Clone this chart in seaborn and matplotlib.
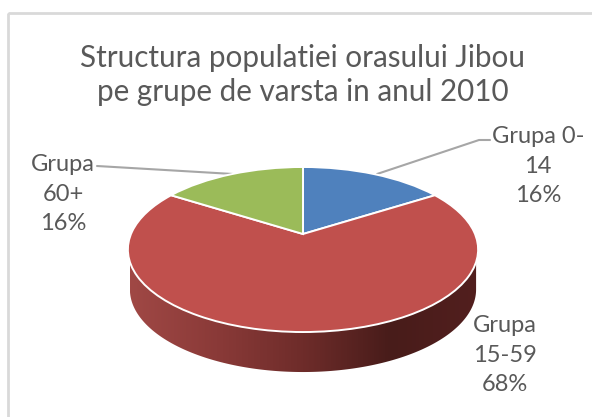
import numpy as np
import seaborn as sns
import matplotlib
matplotlib.use('Agg')
import matplotlib.pyplot as plt
from matplotlib.colors import LinearSegmentedColormap
from matplotlib.patches import Polygon, Rectangle
from matplotlib.transforms import Transform

groups = ['Grupa 0-\n14', 'Grupa\n15-59', 'Grupa\n60+']
shares = [16, 68, 16]
colors = ['#4f81bd', '#c0504d', '#9bbb59']
title = 'Structura populatiei orasului Jibou\npe grupe de varsta in anul 2010'

# pie geometry, in picture pixels
CX, CY = 303, 234
RX, RY, TILT = 172, 79.6, 0.188
DEPTH = 40


class Tilted(Transform):
    # puts the flat unit pie on the receding disc of the 3d look
    input_dims = output_dims = 2
    has_inverse = False

    def __init__(self, cy=CY, rx=RX):
        super().__init__()
        self.cy, self.rx = cy, rx

    def transform_non_affine(self, xy):
        xy = np.asarray(xy, dtype=float)
        d = 1 + TILT * xy[:, 1]
        return np.column_stack([CX + self.rx * xy[:, 0] / d, self.cy - RY * xy[:, 1] / d])


sns.set_theme(style='white')
plt.rcParams['font.family'] = ['Lato', 'DejaVu Sans']

fig = plt.figure(figsize=(5.92, 4.17), dpi=100)
ax = fig.add_axes([0, 0, 1, 1])

wedges, _ = ax.pie(shares, colors=colors, startangle=90, counterclock=False,
                   wedgeprops={'edgecolor': 'white', 'linewidth': 1.4})
for w in wedges:
    w.set_transform(Tilted() + ax.transData)
    w.set_zorder(3)

# side wall of the pie, lower half of the same disc moved down
a = np.linspace(np.pi + np.arcsin(TILT), 2 * np.pi - np.arcsin(TILT), 200)
low = Tilted(CY + DEPTH, 170).transform_non_affine(np.column_stack([np.cos(a), np.sin(a)]))
low = np.vstack([[low[0, 0], 262], low, [low[-1, 0], 262]])
wall = Polygon(low, closed=True, fc='none', ec='none', transform=ax.transData)
ax.add_patch(wall)
wall_cmap = LinearSegmentedColormap.from_list('wall', ['#a04845', '#8a3a38', '#6e2c2a', '#481c1a', '#521f1e'])
img = ax.imshow(np.linspace(0, 1, 256)[None, :], cmap=wall_cmap, aspect='auto',
                extent=[130, 477, 380, 255], zorder=2)
img.set_clip_path(wall)

ax.set_xlim(0, 592)
ax.set_ylim(417, 0)
ax.set_aspect('auto')
ax.axis('off')

ax.add_patch(Rectangle((8, 13), 640, 460, fc='none', ec='#d9d9d9', lw=2, clip_on=True))

# leader lines
ax.plot([490, 479, 377], [140, 140, 174], color='#a6a6a6', lw=1.5, zorder=1)
ax.plot([97, 233], [166, 174], color='#a6a6a6', lw=1.5, zorder=1)

ax.text(303, 75, title, ha='center', va='center', fontsize=21.3, color='#595959', linespacing=1.25)
label_pos = [(538, 166), (505, 355), (63, 194)]
for g, s, (x, y) in zip(groups, shares, label_pos):
    ax.text(x, y, f'{g}\n{s}%', ha='center', va='center', fontsize=17, color='#595959', linespacing=1.5)

plt.savefig('out.png', dpi=100)
